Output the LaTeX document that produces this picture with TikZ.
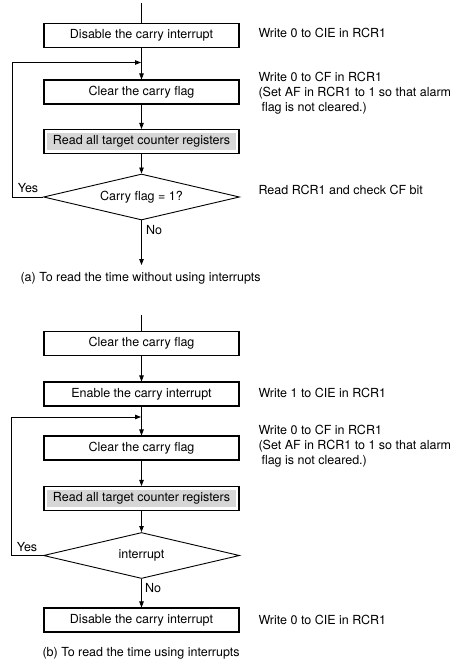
\documentclass[tikz,border=0pt]{standalone}
\usepackage{fontspec}
\setmainfont{TeX Gyre Heros}
\usetikzlibrary{arrows.meta,shapes.geometric}
\definecolor{regfill}{HTML}{D6D6D6}
\tikzset{
  stepbox/.style={draw,line width=1.1pt,minimum width=195pt,minimum height=24pt,inner sep=0pt},
  readbox/.style={stepbox,path picture={\fill[regfill] ([shift={(3pt,-3.5pt)}]path picture bounding box.north west) rectangle ([shift={(-3pt,3.5pt)}]path picture bounding box.south east);}},
  decision/.style={draw,line width=0.9pt,shape=diamond,aspect=4.2,minimum width=196pt,minimum height=46pt,inner sep=0pt},
  flow/.style={line width=0.8pt,-{Triangle[length=6pt,width=4.5pt]}},
  plain/.style={line width=0.8pt},
  note/.style={anchor=west,align=left},
}

\begin{document}
\begin{tikzpicture}[x=1pt,y=-1pt,font=\fontsize{12.5}{15}\selectfont]
  \useasboundingbox (0,0) rectangle (455,664);

  % (a) without interrupts
  \coordinate (startA) at (141.5,3);
  \node[stepbox] (disA) at (141.5,35.5) {Disable the carry interrupt};
  \node[note] (noteA1) at (255,33) {Write 0 to CIE in RCR1};
  \coordinate (fbA) at (141,62.5);
  \node[stepbox] (clrA) at (141.5,92) {Clear the carry flag};
  \node[note] (noteA2) at (255,93) {Write 0 to CF in RCR1\\(Set AF in RCR1 to 1 so that alarm\\\hspace*{3pt}flag is not cleared.)};
  \node[readbox] (readA) at (141.5,141.5) {Read all target counter registers};
  \node[decision] (decA) at (141.5,197) {Carry flag = 1?};
  \node[note] (noteA3) at (255,190) {Read RCR1 and check CF bit};
  \node (yesA) at (28,188) {Yes};
  \node (noA) at (154,230) {No};
  \coordinate (endA) at (141.5,265);
  \node[anchor=west] (capA) at (17,278) {(a) To read the time without using interrupts};

  \draw[plain] (startA) -- (disA);
  \draw[flow] (disA) -- (clrA);
  \draw[flow] (clrA) -- (readA);
  \draw[flow] (readA) -- (decA);
  \draw[flow] (decA) -- (endA);
  \draw[flow] (decA.west) -- ++(-31,0) |- (fbA);

  % (b) using interrupts
  \coordinate (startB) at (141.5,315);
  \node[stepbox] (clrB1) at (141.5,343.5) {Clear the carry flag};
  \node[stepbox] (enB) at (141.5,394) {Enable the carry interrupt};
  \node[note] (noteB1) at (255,393) {Write 1 to CIE in RCR1};
  \coordinate (fbB) at (141,417);
  \node[stepbox] (clrB2) at (141.5,448) {Clear the carry flag};
  \node[note] (noteB2) at (255,446) {Write 0 to CF in RCR1\\(Set AF in RCR1 to 1 so that alarm\\\hspace*{3pt}flag is not cleared.)};
  \node[readbox] (readB) at (141.5,498.5) {Read all target counter registers};
  \node[decision] (decB) at (141.5,555.5) {interrupt};
  \node (yesB) at (27,547) {Yes};
  \node (noB) at (153,588) {No};
  \node[stepbox] (disB) at (141.5,620) {Disable the carry interrupt};
  \node[note] (noteB3) at (255,620) {Write 0 to CIE in RCR1};
  \node[anchor=west] (capB) at (39,653) {(b) To read the time using interrupts};

  \draw[plain] (startB) -- (clrB1);
  \draw[flow] (clrB1) -- (enB);
  \draw[flow] (enB) -- (clrB2);
  \draw[flow] (clrB2) -- (readB);
  \draw[flow] (readB) -- (decB);
  \draw[flow] (decB) -- (disB);
  \draw[flow] (decB.west) -- ++(-32,0) |- (fbB);
\end{tikzpicture}
\end{document}
